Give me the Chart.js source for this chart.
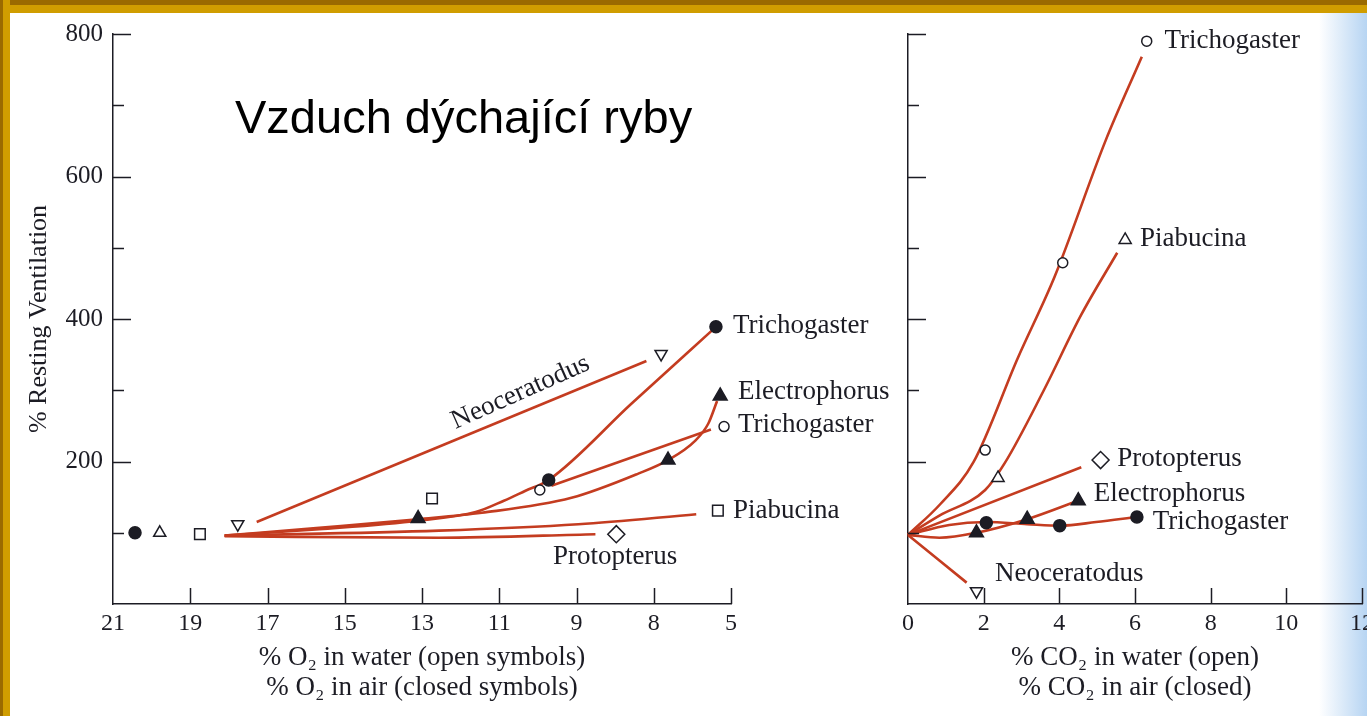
<!DOCTYPE html>
<html lang="cs">
<head>
<meta charset="utf-8">
<title>Vzduch dýchající ryby</title>
<script src="https://cdn.jsdelivr.net/npm/chart.js@4.4.1/dist/chart.umd.min.js"></script>
<style>
    html, body { margin: 0; padding: 0; background: #fff; }
    body { width: 1367px; height: 716px; position: relative; overflow: hidden; }
    .frame-top { position: absolute; left: 0; top: 0; width: 100%; height: 13px; z-index: 5;
        background: linear-gradient(#9a6a00 0 5px, #d09d00 5px 13px); }
    .frame-left { position: absolute; left: 0; top: 0; width: 10px; height: 100%; z-index: 5;
        background: linear-gradient(to right, #9a6a00 0 3px, #d09d00 3px 10px); }
    .page-edge { position: absolute; right: 0; top: 0; width: 48px; height: 100%; z-index: 0;
        background: linear-gradient(to right, rgba(205, 225, 245, 0), rgba(170, 205, 240, 0.85)); }
    .heading { position: absolute; left: 235px; top: 89px; z-index: 3; line-height: 47px; color: #000;
        font: 47px "Liberation Sans", Arial, sans-serif; white-space: nowrap; }
    #o2-box { position: absolute; left: 0; top: 0; width: 905px; height: 716px; z-index: 1; }
    #co2-box { position: absolute; left: 880px; top: 0; width: 520px; height: 716px; z-index: 2; }
</style>
</head>
<body>
<div class="page-edge"></div>
<div class="frame-top"></div>
<div class="frame-left"></div>
<div class="heading">Vzduch dýchající ryby</div>
<div id="o2-box"><canvas id="o2-chart"></canvas></div>
<div id="co2-box"><canvas id="co2-chart"></canvas></div>

<script>
const red = '#c43c20';
const ink = '#1c1c24';
const serif = '"Liberation Serif", "Times New Roman", serif';

// shared y axis: % resting ventilation
const ventMajorTicks = [200, 400, 600, 800];
const ventMinorTicks = [100, 300, 500, 700];

// left panel: falling O2, axis runs from 21 % down to 5 %
const o2TickValues = [21, 19, 17, 15, 13, 11, 9, 7, 5];
const o2TickLabels = ['21', '19', '17', '15', '13', '11', '9', '8', '5'];

const o2NeoceratodusCurve = [[17.28, 115], [7.19, 341]];
const o2TrichogasterAirCurve = [[18.11, 96], [15.66, 105], [13.08, 117], [11.61, 129], [10.88, 145], [10.32, 159], [9.72, 174], [7.58, 281], [5.39, 389]];
const o2TrichogasterWaterCurve = [[9.65, 166], [5.52, 245]];
const o2ElectrophorusCurve = [[18.11, 96], [15.66, 107], [13.10, 119], [11.45, 128], [9.13, 149], [7.40, 183], [6.63, 202], [5.93, 229], [5.59, 253], [5.36, 285]];
const o2PiabucinaCurve = [[18.11, 96], [12.56, 103], [8.95, 112], [5.90, 126]];
const o2ProtopterusCurve = [[18.11, 95], [12.56, 93], [8.51, 98]];

const o2FilledCircles = [[20.43, 100], [9.72, 174], [5.39, 389]];
const o2OpenCircles = [[9.95, 160], [5.18, 249]];
const o2FilledTriangles = [[13.10, 120], [6.63, 202], [5.28, 292]];
const o2OpenTriangles = [[19.79, 100]];
const o2OpenSquares = [[18.75, 98], [12.74, 148], [5.34, 131]];
const o2OpenDiamonds = [[7.97, 98]];
const o2OpenDownTriangles = [[17.77, 112], [6.81, 351]];

// right panel: rising CO2
const co2TickValues = [0, 2, 4, 6, 8, 10, 12];

const co2TrichogasterWaterCurve = [[0, 97], [0.85, 140], [1.73, 199], [2.90, 345], [3.88, 460], [5.22, 650], [6.18, 768]];
const co2PiabucinaCurve = [[0, 97], [0.83, 124], [2.04, 160], [2.56, 198], [3.59, 300], [4.58, 406], [5.53, 493]];
const co2ProtopterusCurve = [[0, 97], [4.58, 192]];
const co2ElectrophorusCurve = [[0, 97], [0.83, 93], [1.81, 100], [3.15, 119], [4.50, 145]];
const co2TrichogasterAirCurve = [[0, 97], [1.09, 111], [2.07, 115], [3.15, 112], [4.03, 110], [4.97, 115], [6.03, 122]];
const co2NeoceratodusCurve = [[0, 97], [1.55, 30]];

const co2OpenCircles = [[2.04, 216], [4.09, 479], [6.31, 790]];
const co2OpenTriangles = [[2.38, 177], [5.74, 511]];
const co2OpenDiamonds = [[5.09, 202]];
const co2FilledTriangles = [[1.81, 100], [3.15, 119], [4.50, 145]];
const co2FilledCircles = [[2.07, 114], [4.01, 110], [6.05, 122]];
const co2OpenDownTriangles = [[1.81, 18]];

// species names written next to the curves: [text, x, y, align, angle]
const o2Labels = [
    ['Trichogaster', 4.95, 391],
    ['Electrophorus', 4.82, 297],
    ['Trichogaster', 4.82, 251],
    ['Piabucina', 4.95, 131],
    ['Protopterus', 8.0, 66, 'center'],
    ['Neoceratodus', 10.45, 297, 'center', -24],
];
const co2Labels = [
    ['Trichogaster', 6.78, 790],
    ['Piabucina', 6.13, 512],
    ['Protopterus', 5.53, 204],
    ['Electrophorus', 4.91, 154],
    ['Trichogaster', 6.47, 115],
    ['Neoceratodus', 2.30, 42],
];

const symbols = {
    filledCircle: { shape: 'circle', r: 6, fill: ink },
    openCircle: { shape: 'circle', r: 5, fill: '#fff' },
    filledTriangle: { shape: 'triangle', r: 8, fill: ink },
    openTriangle: { shape: 'triangle', r: 7, fill: '#fff' },
    openSquare: { shape: 'rect', r: 7.5, fill: '#fff' },
    openDiamond: { shape: 'rectRot', r: 8.5, fill: '#fff' },
    openDownTriangle: { shape: 'triangle', r: 7, fill: '#fff', rotation: 180 },
};

function toPoints(pairs) {
    return pairs.map(([x, y]) => ({ x, y }));
}

function curve(pairs) {
    return {
        data: toPoints(pairs),
        showLine: true,
        borderColor: red,
        borderWidth: 2.6,
        pointRadius: 0,
        cubicInterpolationMode: 'monotone',
        clip: false,
        order: 2,
    };
}

function marks(pairs, symbol) {
    return {
        data: toPoints(pairs),
        showLine: false,
        pointStyle: symbol.shape,
        pointRadius: symbol.r,
        pointRotation: symbol.rotation || 0,
        pointBackgroundColor: symbol.fill,
        pointBorderColor: ink,
        pointBorderWidth: 1.5,
        clip: false,
        order: 1,
    };
}

// tick marks point into the plot, major ones longer than minor ones
const inwardTicks = {
    id: 'inwardTicks',
    afterDraw(chart, args, opts) {
        const { ctx, chartArea, scales } = chart;

        ctx.save();
        ctx.strokeStyle = ink;
        ctx.lineWidth = 1.5;
        ctx.beginPath();

        opts.x.forEach((value) => {
            const px = Math.round(scales.x.getPixelForValue(value)) + 0.5;
            ctx.moveTo(px, chartArea.bottom);
            ctx.lineTo(px, chartArea.bottom - 16);
        });

        [[ventMajorTicks, 18], [ventMinorTicks, 11]].forEach(([values, length]) => {
            values.forEach((value) => {
                const py = Math.round(scales.y.getPixelForValue(value)) + 0.5;
                ctx.moveTo(chartArea.left, py);
                ctx.lineTo(chartArea.left + length, py);
            });
        });

        ctx.stroke();
        ctx.restore();
    },
};

const speciesLabels = {
    id: 'speciesLabels',
    afterDatasetsDraw(chart, args, opts) {
        const { ctx, scales } = chart;

        ctx.save();
        ctx.fillStyle = ink;
        ctx.font = `27px ${serif}`;
        ctx.textBaseline = 'middle';

        opts.items.forEach(([text, x, y, align = 'left', angle = 0]) => {
            ctx.save();
            ctx.translate(scales.x.getPixelForValue(x), scales.y.getPixelForValue(y));
            ctx.rotate(angle * Math.PI / 180);
            ctx.textAlign = align;
            ctx.fillText(text, 0, 0);
            ctx.restore();
        });

        ctx.restore();
    },
};

function ventilationAxis(width, showLabels) {
    return {
        min: 0,
        max: 800,
        afterBuildTicks: (scale) => {
            scale.ticks = ventMajorTicks.map((value) => ({ value }));
        },
        afterFit: (scale) => {
            scale.width = width;
        },
        grid: { display: false, drawTicks: false },
        border: { display: true, color: ink, width: 1.5 },
        ticks: {
            display: showLabels,
            padding: 10,
            color: ink,
            font: { family: serif, size: 25 },
        },
        title: {
            display: showLabels,
            text: '% Resting Ventilation',
            color: ink,
            font: { family: serif, size: 26 },
            padding: { top: 24, bottom: 0 },
        },
    };
}

function gasAxis(options, tickValues, tickLabels, titleLines) {
    return {
        ...options,
        afterBuildTicks: (scale) => {
            scale.ticks = tickValues.map((value) => ({ value }));
        },
        afterFit: (scale) => {
            scale.height = 112;
        },
        grid: { display: false, drawTicks: false },
        border: { display: true, color: ink, width: 1.5 },
        ticks: {
            padding: 5,
            color: ink,
            maxRotation: 0,
            autoSkip: false,
            font: { family: serif, size: 24 },
            callback: (value, index) => tickLabels[index],
        },
        title: {
            display: true,
            text: titleLines,
            color: ink,
            font: { family: serif, size: 27, lineHeight: 1.11 },
            padding: { top: 0, bottom: 13 },
        },
    };
}

function baseOptions(padding) {
    return {
        responsive: true,
        maintainAspectRatio: false,
        animation: false,
        events: [],
        layout: { padding },
        plugins: {
            legend: { display: false },
            tooltip: { enabled: false },
        },
    };
}

new Chart(document.getElementById('o2-chart'), {
    type: 'scatter',
    data: {
        datasets: [
            curve(o2NeoceratodusCurve),
            curve(o2TrichogasterAirCurve),
            curve(o2TrichogasterWaterCurve),
            curve(o2ElectrophorusCurve),
            curve(o2PiabucinaCurve),
            curve(o2ProtopterusCurve),
            marks(o2FilledCircles, symbols.filledCircle),
            marks(o2OpenCircles, symbols.openCircle),
            marks(o2FilledTriangles, symbols.filledTriangle),
            marks(o2OpenTriangles, symbols.openTriangle),
            marks(o2OpenSquares, symbols.openSquare),
            marks(o2OpenDiamonds, symbols.openDiamond),
            marks(o2OpenDownTriangles, symbols.openDownTriangle),
        ],
    },
    options: {
        ...baseOptions({ top: 34, right: 174, bottom: 0, left: 0 }),
        scales: {
            x: gasAxis({ type: 'linear', min: 5, max: 21, reverse: true }, o2TickValues, o2TickLabels,
                ['% O\u2082 in water (open symbols)', '% O\u2082 in air (closed symbols)']),
            y: ventilationAxis(113, true),
        },
        plugins: {
            ...baseOptions().plugins,
            inwardTicks: { x: o2TickValues.slice(1) },
            speciesLabels: { items: o2Labels },
        },
    },
    plugins: [inwardTicks, speciesLabels],
});

new Chart(document.getElementById('co2-chart'), {
    type: 'scatter',
    data: {
        datasets: [
            curve(co2TrichogasterWaterCurve),
            curve(co2PiabucinaCurve),
            curve(co2ProtopterusCurve),
            curve(co2ElectrophorusCurve),
            curve(co2TrichogasterAirCurve),
            curve(co2NeoceratodusCurve),
            marks(co2OpenCircles, symbols.openCircle),
            marks(co2OpenTriangles, symbols.openTriangle),
            marks(co2OpenDiamonds, symbols.openDiamond),
            marks(co2FilledTriangles, symbols.filledTriangle),
            marks(co2FilledCircles, symbols.filledCircle),
            marks(co2OpenDownTriangles, symbols.openDownTriangle),
        ],
    },
    options: {
        ...baseOptions({ top: 34, right: 38, bottom: 0, left: 0 }),
        scales: {
            x: gasAxis({ type: 'linear', min: 0, max: 12 }, co2TickValues, co2TickValues.map(String),
                ['% CO\u2082 in water (open)', '% CO\u2082 in air (closed)']),
            y: ventilationAxis(28, false),
        },
        plugins: {
            ...baseOptions().plugins,
            inwardTicks: { x: co2TickValues.slice(1) },
            speciesLabels: { items: co2Labels },
        },
    },
    plugins: [inwardTicks, speciesLabels],
});
</script>
</body>
</html>
